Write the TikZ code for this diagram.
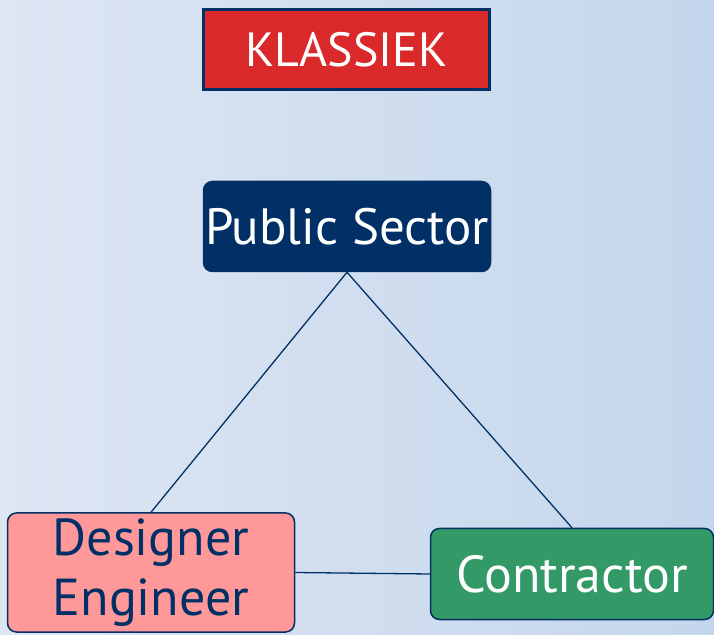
\documentclass[tikz,border=0pt]{standalone}
\usepackage{fontspec}
\setmainfont{PT Sans}
\definecolor{navy}{RGB}{0,48,102}
\definecolor{klred}{RGB}{217,41,43}
\definecolor{pink}{RGB}{255,153,153}
\definecolor{green}{RGB}{51,153,102}
\definecolor{bgleft}{RGB}{221,230,243}
\definecolor{bgright}{RGB}{197,214,236}
\tikzset{
    box/.style={draw=navy, line width=1.5pt, rounded corners=9pt, align=center, inner sep=0pt},
    link/.style={draw=navy, line width=1.3pt}
}

\begin{document}
\begin{tikzpicture}[x=1pt,y=1pt]
        \shade[left color=bgleft, right color=bgright] (0,0) rectangle (714,634);
        \useasboundingbox (0,0) rectangle (714,634);

        \node[draw=navy, line width=3pt, fill=klred, text=white, minimum width=286pt, minimum height=80pt, font=\fontsize{48}{56}\selectfont] (klassiek) at (346.5,584.5) {KLASSIEK};
        \node[box, fill=navy, text=white, minimum width=287pt, minimum height=90pt, font=\fontsize{51}{60}\selectfont] (public) at (347,407.5) {Public Sector};
        \node[box, fill=pink, text=navy, minimum width=287pt, minimum height=119pt, font=\fontsize{52}{59}\selectfont] (designer) at (151,61.5) {Designer\\[1pt]Engineer};
        \node[box, fill=green, text=white, minimum width=283pt, minimum height=91pt, font=\fontsize{52}{58}\selectfont] (contractor) at (572,60) {Contractor};

        \draw[link] (public.south) -- (designer.north);
        \draw[link] (public.south) -- (contractor.north);
        \draw[link] (designer.east) -- (contractor.west);
    
    \end{tikzpicture}
\end{document}
